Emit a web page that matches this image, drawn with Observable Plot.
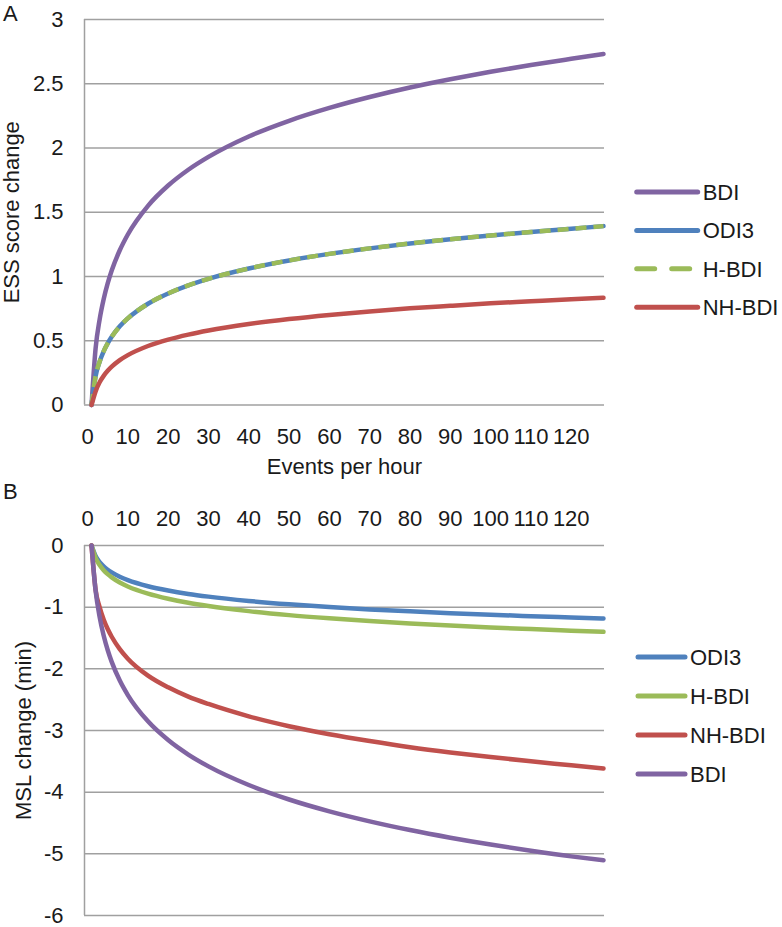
<!DOCTYPE html>
<html><head><meta charset="utf-8">
<script src="https://cdn.jsdelivr.net/npm/d3@7"></script>
<script src="https://cdn.jsdelivr.net/npm/@observablehq/plot@0.6"></script>
<style>
body{margin:0;background:#fff;}
#wrap{position:relative;width:782px;height:927px;font-family:"Liberation Sans",Arial,sans-serif;color:#1a1a1a;overflow:hidden;}
.panel{position:absolute;left:0;}
.tag{position:absolute;font-size:22px;line-height:1;}
.legend{position:absolute;}
</style></head>
<body><div id="wrap"></div>
<script>
// ---- data ----
const hours = [1, 2, 3, 4, 5, 6, 8, 10, 15, 20, 25, 30, 40, 50, 60, 70, 80, 90, 100, 110, 120, 128];
const xTickValues = [0, 10, 20, 30, 40, 50, 60, 70, 80, 90, 100, 110, 120];
const essTicks = [0, 0.5, 1, 1.5, 2, 2.5, 3];
const mslTicks = [0, -1, -2, -3, -4, -5, -6];

// Panel A: ESS score change
const essBDI   = [0, 0.44, 0.665, 0.823, 0.946, 1.046, 1.204, 1.327, 1.55, 1.708, 1.831, 1.931, 2.09, 2.212, 2.312, 2.397, 2.471, 2.535, 2.593, 2.646, 2.694, 2.731];
const essODI3  = [0, 0.224, 0.337, 0.418, 0.48, 0.531, 0.612, 0.674, 0.788, 0.868, 0.931, 0.982, 1.062, 1.125, 1.176, 1.219, 1.257, 1.29, 1.319, 1.346, 1.371, 1.392];
const essHBDI  = [0, 0.224, 0.337, 0.418, 0.48, 0.531, 0.612, 0.674, 0.788, 0.868, 0.931, 0.982, 1.062, 1.125, 1.176, 1.219, 1.257, 1.29, 1.319, 1.346, 1.371, 1.392];
const essNHBDI = [0, 0.106, 0.177, 0.227, 0.266, 0.298, 0.349, 0.388, 0.459, 0.509, 0.548, 0.58, 0.63, 0.669, 0.701, 0.728, 0.752, 0.772, 0.791, 0.807, 0.823, 0.834];

// Panel B: MSL change (min)
const mslODI3  = [0, -0.169, -0.268, -0.338, -0.392, -0.437, -0.507, -0.561, -0.66, -0.73, -0.785, -0.829, -0.899, -0.954, -0.998, -1.036, -1.068, -1.097, -1.123, -1.146, -1.167, -1.183];
const mslHBDI  = [0, -0.2, -0.317, -0.4, -0.464, -0.517, -0.6, -0.664, -0.781, -0.864, -0.929, -0.981, -1.064, -1.129, -1.181, -1.226, -1.264, -1.298, -1.329, -1.356, -1.381, -1.40];
const mslNHBDI = [0, -0.717, -1.0, -1.2, -1.355, -1.48, -1.68, -1.835, -2.11, -2.30, -2.45, -2.57, -2.77, -2.93, -3.06, -3.17, -3.27, -3.355, -3.43, -3.50, -3.565, -3.618];
const mslBDI   = [0, -0.73, -1.157, -1.46, -1.695, -1.887, -2.19, -2.425, -2.852, -3.155, -3.39, -3.582, -3.884, -4.119, -4.311, -4.473, -4.614, -4.738, -4.849, -4.949, -5.041, -5.105];

const colors = {BDI: "#8064a2", ODI3: "#4f81bd", "H-BDI": "#9bbb59", "NH-BDI": "#c0504d"};

// ---- build ----
const font = '"Liberation Sans", Arial, sans-serif';
const fs = 22;
const gridColor = "#a0a0a0";
const xDomain = [-0.75, 128.25];
const rows = (vals) => hours.map((h, i) => ({h, v: vals[i]}));
const fmt = (d) => String(d);
const wrap = document.getElementById("wrap");

function lineMark(vals, name, extra = {}) {
  return Plot.line(rows(vals), {x: "h", y: "v", stroke: colors[name], strokeWidth: 4.5, curve: "monotone-x", ...extra});
}

const plotA = Plot.plot({
  width: 782, height: 480,
  marginLeft: 84, marginRight: 178, marginTop: 19, marginBottom: 75.5,
  style: {fontFamily: font, fontSize: fs + "px", color: "#1a1a1a", background: "white", overflow: "visible"},
  x: {domain: xDomain},
  y: {domain: [0, 3]},
  marks: [
    Plot.gridY(essTicks, {stroke: gridColor, strokeOpacity: 1, strokeWidth: 1.5}),
    Plot.ruleX([xDomain[0]], {stroke: gridColor, strokeWidth: 1.5}),
    Plot.axisY(essTicks, {tickSize: 0, tickPadding: 21, fontSize: fs, tickFormat: fmt,
      label: "ESS score change", labelAnchor: "center", labelOffset: 81, labelArrow: "none"}),
    Plot.axisX(xTickValues, {tickSize: 0, tickPadding: 23.5, fontSize: fs, tickFormat: fmt,
      label: "Events per hour", labelAnchor: "center", labelOffset: 69, labelArrow: "none"}),
    lineMark(essBDI, "BDI"),
    lineMark(essODI3, "ODI3"),
    lineMark(essHBDI, "H-BDI", {strokeDasharray: "11,7", strokeLinecap: "butt"}),
    lineMark(essNHBDI, "NH-BDI")
  ]
});
plotA.classList.add("panel");
plotA.style.top = "0px";
wrap.appendChild(plotA);

const plotB = Plot.plot({
  width: 782, height: 447,
  marginLeft: 84, marginRight: 178, marginTop: 65, marginBottom: 12,
  style: {fontFamily: font, fontSize: fs + "px", color: "#1a1a1a", background: "white", overflow: "visible"},
  x: {domain: xDomain},
  y: {domain: [-6, 0]},
  marks: [
    Plot.gridY(mslTicks, {stroke: gridColor, strokeOpacity: 1, strokeWidth: 1.5}),
    Plot.ruleX([xDomain[0]], {stroke: gridColor, strokeWidth: 1.5}),
    Plot.axisY(mslTicks, {tickSize: 0, tickPadding: 21, fontSize: fs, tickFormat: fmt,
      label: "MSL change (min)", labelAnchor: "center", labelOffset: 69, labelArrow: "none"}),
    Plot.axisX(xTickValues, {anchor: "top", tickSize: 0, tickPadding: 20, fontSize: fs, tickFormat: fmt, label: null}),
    lineMark(mslODI3, "ODI3"),
    lineMark(mslHBDI, "H-BDI"),
    lineMark(mslNHBDI, "NH-BDI"),
    lineMark(mslBDI, "BDI")
  ]
});
plotB.classList.add("panel");
plotB.style.top = "480px";
wrap.appendChild(plotB);

// panel tags
for (const [t, top] of [["A", 3], ["B", 481]]) {
  const d = document.createElement("div");
  d.className = "tag"; d.textContent = t;
  d.style.left = "3px"; d.style.top = top + "px";
  wrap.appendChild(d);
}

// legends
function legend(items, left, top, x1, x2, step) {
  const svg = d3.select(wrap).append("svg").attr("class", "legend")
    .attr("width", 170).attr("height", step * items.length + 10)
    .style("left", left + "px").style("top", top + "px");
  items.forEach((it, i) => {
    const y = 14 + i * step;
    svg.append("line").attr("x1", x1).attr("x2", x2).attr("y1", y).attr("y2", y)
      .attr("stroke", colors[it.name]).attr("stroke-width", 5)
      .attr("stroke-linecap", "round")
      .attr("stroke-dasharray", it.dash ? "18,17" : null);
    svg.append("text").attr("x", x2 + 5).attr("y", y).attr("dy", "0.36em")
      .attr("font-family", font).attr("font-size", fs).attr("fill", "#1a1a1a").text(it.name);
  });
}
legend([{name: "BDI"}, {name: "ODI3"}, {name: "H-BDI", dash: true}, {name: "NH-BDI"}], 620, 191.7 - 14, 16.7, 77.7, 38.4);
legend([{name: "ODI3"}, {name: "H-BDI"}, {name: "NH-BDI"}, {name: "BDI"}], 620, 657.3 - 14, 18, 65, 39);
</script>
</body></html>
